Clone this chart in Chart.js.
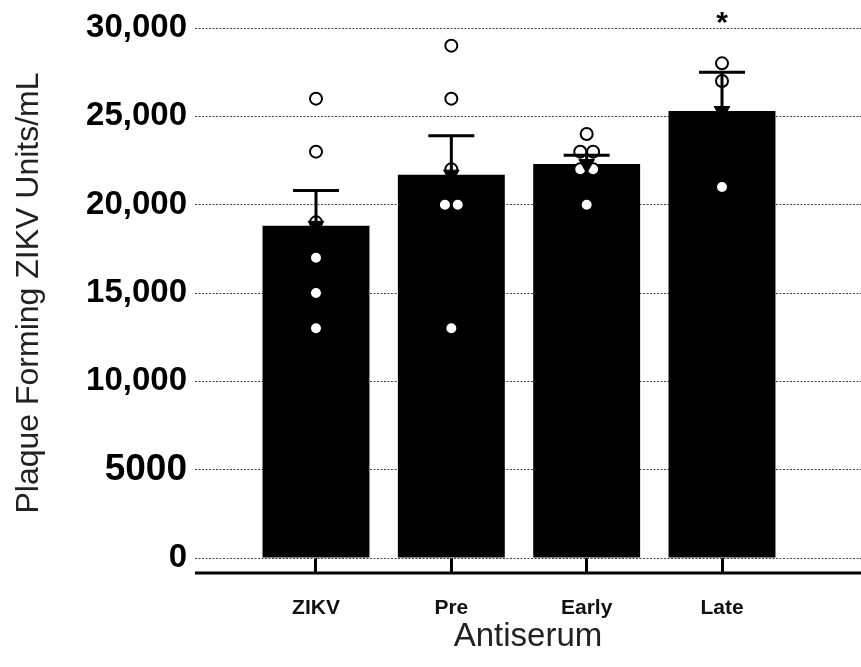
<!DOCTYPE html>
<html>
<head>
<meta charset="utf-8">
<title>Plaque forming ZIKV units</title>
<script src="https://cdn.jsdelivr.net/npm/chart.js@4"></script>
<style>
  html, body { margin: 0; padding: 0; background: #fff; }
</style>
</head>
<body>
<canvas id="plaqueChart" width="861" height="667"></canvas>
<script>
// Groups along the x axis
const groups = ["ZIKV", "Pre", "Early", "Late"];

// Bar heights (group mean) and upper error (SEM)
const means = [18800, 21700, 22300, 25300];
const sems = [2000, 2200, 500, 2200];

// Individual values for each group
const zikvPts = [26000, 23000, 19000, 17000, 15000, 13000];
const prePts = [29000, 26000, 22000, 20000, 20000, 13000];
const earlyPts = [24000, 23000, 23000, 22000, 22000, 20000];
const latePts = [28000, 27000, 21000];

// Y axis ticks and their labels
const yTicks = [0, 5000, 10000, 15000, 20000, 25000, 30000];
const yTickLabels = ["0", "5000", "10,000", "15,000", "20,000", "25,000", "30,000"];

// Significance marks over each bar
const sigMarks = ["", "", "", "*"];


const FONT = '"Liberation Sans", Arial, Helvetica, sans-serif';

// Build scatter points, nudging repeated values side by side
function buildPoints() {
    const out = [];
    [zikvPts, prePts, earlyPts, latePts].forEach((vals, gi) => {
        const seen = {};
        vals.forEach(v => {
            const n = vals.filter(w => w === v).length;
            const k = seen[v] = (seen[v] === undefined ? 0 : seen[v] + 1);
            const shift = (k - (n - 1) / 2) * 0.095;
            out.push({ x: gi + 1 + shift, y: v });
        });
    });
    return out;
}


// Error bars, the offset x axis line and the asterisk
const extras = {
    id: "extras",
    afterDatasetsDraw(chart) {
        const { ctx, chartArea } = chart;
        const x = chart.scales.x, y = chart.scales.y;
        ctx.save();
        ctx.strokeStyle = "#000";
        ctx.fillStyle = "#000";
        ctx.lineWidth = 3;
        means.forEach((m, i) => {
            const px = x.getPixelForValue(i + 1);
            const y0 = y.getPixelForValue(m);
            const y1 = y.getPixelForValue(m + sems[i]);
            ctx.beginPath();
            ctx.moveTo(px, y0);
            ctx.lineTo(px, y1);
            ctx.moveTo(px - 23, y1);
            ctx.lineTo(px + 23, y1);
            ctx.stroke();
            if (sigMarks[i]) {
                ctx.font = "bold 30px " + FONT;
                ctx.textAlign = "center";
                ctx.textBaseline = "top";
                ctx.fillText(sigMarks[i], px, chartArea.top - 19);
            }
        });
        // x axis line sits a little below the zero line
        const ay = chartArea.bottom + 15;
        ctx.beginPath();
        ctx.moveTo(chartArea.left, ay);
        ctx.lineTo(chartArea.right, ay);
        ctx.stroke();
        ctx.restore();
    }
};


const chart = new Chart(document.getElementById("plaqueChart").getContext("2d"), {
    type: "bar",
    data: {
        datasets: [
            {
                type: "line",
                label: "mean marker",
                data: means.map((m, i) => ({ x: i + 1, y: m })),
                showLine: false,
                pointStyle: "triangle",
                rotation: 180,
                pointRadius: 9,
                pointBackgroundColor: "#000",
                pointBorderColor: "#000",
                pointBorderWidth: 1,
                order: 1
            },
            {
                type: "scatter",
                label: "individual",
                data: buildPoints(),
                pointRadius: 6,
                pointBorderWidth: 2,
                pointBackgroundColor: "#fff",
                pointBorderColor: "#000",
                order: 2
            },
            {
                type: "bar",
                label: "mean",
                data: means.map((m, i) => ({ x: i + 1, y: m })),
                backgroundColor: "#000",
                borderWidth: 0,
                barPercentage: 0.79,
                categoryPercentage: 1,
                order: 3
            }
        ]
    },
    options: {
        responsive: false,
        animation: false,
        layout: { autoPadding: false, padding: { top: 28, right: 0, bottom: 0, left: 0 } },
        plugins: { legend: { display: false }, tooltip: { enabled: false } },
        scales: {
            x: {
                type: "linear",
                offset: false,
                min: 0.106,
                max: 5.027,
                afterBuildTicks: s => { s.ticks = groups.map((g, i) => ({ value: i + 1 })); },
                afterFit: s => { s.height = 109; },
                grid: {
                    offset: false,
                    drawOnChartArea: false,
                    drawTicks: true,
                    tickLength: 15,
                    tickWidth: 3,
                    tickColor: "#000"
                },
                border: { display: false },
                ticks: {
                    autoSkip: false,
                    maxRotation: 0,
                    padding: 23,
                    color: "#111",
                    font: { family: FONT, size: 21, weight: "bold" },
                    callback: (v, i) => groups[i]
                },
                title: {
                    display: true,
                    text: "Antiserum",
                    color: "#222",
                    font: { family: FONT, size: 33 },
                    padding: { top: 0, bottom: 10 }
                }
            },
            y: {
                min: 0,
                max: 30000,
                afterBuildTicks: s => { s.ticks = yTicks.map(v => ({ value: v })); },
                afterFit: s => { s.width = 195; },
                grid: {
                    color: "#444",
                    lineWidth: 1,
                    drawTicks: false
                },
                border: { display: false, dash: [2, 1.5] },
                ticks: {
                    padding: 8,
                    color: "#000",
                    font: ctx => ({
                        family: FONT,
                        weight: "bold",
                        size: ctx.tick && ctx.tick.value === 5000 ? 37 : 33
                    }),
                    callback: (v, i) => yTickLabels[i]
                },
                title: {
                    display: true,
                    text: "Plaque Forming ZIKV Units/mL",
                    color: "#222",
                    font: { family: FONT, size: 32 },
                    padding: { top: 10, bottom: 0 }
                }
            }
        }
    },
    plugins: [extras]
});
</script>
</body>
</html>
